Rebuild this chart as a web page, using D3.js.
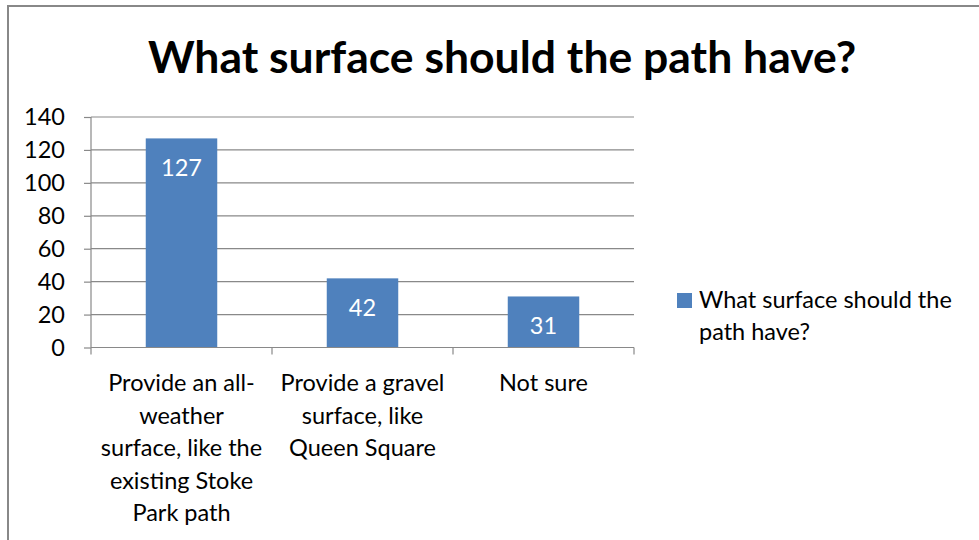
<!DOCTYPE html>
<html>
<head>
<meta charset="utf-8">
<script src="https://cdn.jsdelivr.net/npm/d3@7"></script>
<style>
html,body{margin:0;padding:0;background:#fff;}
svg{display:block;}
</style>
</head>
<body>
<svg id="chart" width="979" height="540"></svg>
<script>
const title = "What surface should the path have?";
const categories = [
  "Provide an all-\nweather\nsurface, like the\nexisting Stoke\nPark path",
  "Provide a gravel\nsurface, like\nQueen Square",
  "Not sure"
];
const values = [127, 42, 31];
const seriesName = "What surface should the path have?";
const legendLines = ["What surface should the", "path have?"];
const yTicks = [0, 20, 40, 60, 80, 100, 120, 140];

(function () {
const FONT = "Lato, 'Open Sans', 'Noto Sans', sans-serif";
const FS = 23.5;
const svg = d3.select("#chart");

// outer frame
svg.append("rect").attr("x", 8).attr("y", 6).attr("width", 990).attr("height", 560)
  .attr("fill", "#fff").attr("stroke", "#888").attr("stroke-width", 2);

const pLeft = 91, pRight = 634, pTop = 117, pBottom = 347.5;
const x = d3.scaleBand().domain(categories).range([pLeft, pRight]).paddingInner(0.605).paddingOuter(0.3025);
const y = d3.scaleLinear().domain([0, 140]).range([pBottom, pTop]);

// gridlines
svg.append("g").selectAll("line").data(yTicks.filter(d => d > 0)).join("line")
  .attr("x1", pLeft).attr("x2", pRight).attr("y1", d => y(d)).attr("y2", d => y(d))
  .attr("stroke", "#898989").attr("stroke-width", 1.2);

// bars
svg.append("g").selectAll("rect").data(values).join("rect")
  .attr("x", (d, i) => x(categories[i]))
  .attr("y", d => y(d))
  .attr("width", x.bandwidth())
  .attr("height", d => pBottom - y(d))
  .attr("fill", "#4F81BD");

// y axis
const yAxis = d3.axisLeft(y).tickValues(yTicks).tickSize(7).tickPadding(19);
const gy = svg.append("g").attr("transform", `translate(${pLeft},0)`).call(yAxis);
gy.select(".domain").attr("stroke", "#898989").attr("stroke-width", 1.2).attr("d", `M0,${pTop}V${pBottom}`);
gy.selectAll(".tick line").attr("stroke", "#898989").attr("stroke-width", 1.2);
gy.selectAll(".tick text").attr("font-family", FONT).attr("font-size", FS).attr("fill", "#000");

// x axis line and ticks at band boundaries
const bounds = [pLeft, pRight].concat(categories.slice(1).map(c => x(c) - x.step() * x.paddingInner() / 2));
svg.append("line").attr("x1", pLeft).attr("x2", pRight).attr("y1", pBottom).attr("y2", pBottom)
  .attr("stroke", "#898989").attr("stroke-width", 1.2);
svg.append("g").selectAll("line").data(bounds).join("line")
  .attr("x1", d => d).attr("x2", d => d).attr("y1", pBottom).attr("y2", pBottom + 7)
  .attr("stroke", "#898989").attr("stroke-width", 1.2);

// category labels
categories.forEach((c, i) => {
  const cx = x(c) + x.bandwidth() / 2;
  const t = svg.append("text").attr("text-anchor", "middle")
    .attr("font-family", FONT).attr("font-size", FS).attr("fill", "#000");
  c.split("\n").forEach((line, j) => {
    t.append("tspan").attr("x", cx).attr("y", 391 + j * 32.5).text(line);
  });
});

// data labels
svg.append("g").selectAll("text").data(values).join("text")
  .attr("x", (d, i) => x(categories[i]) + x.bandwidth() / 2)
  .attr("y", d => y(d) + 38)
  .attr("text-anchor", "middle")
  .attr("font-family", FONT).attr("font-size", FS).attr("fill", "#fff")
  .text(d => d);

// title
svg.append("text").attr("x", 502).attr("y", 73).attr("text-anchor", "middle")
  .attr("font-family", FONT).attr("font-weight", "bold").attr("font-size", 44.5).attr("fill", "#000")
  .text(title);

// legend
svg.append("rect").attr("x", 677).attr("y", 293).attr("width", 15).attr("height", 15).attr("fill", "#4F81BD");
const lt = svg.append("text").attr("font-family", FONT).attr("font-size", FS).attr("fill", "#000");
legendLines.forEach((l, j) => lt.append("tspan").attr("x", 699).attr("y", 308 + j * 32).text(l));
})();
</script>
</body>
</html>
